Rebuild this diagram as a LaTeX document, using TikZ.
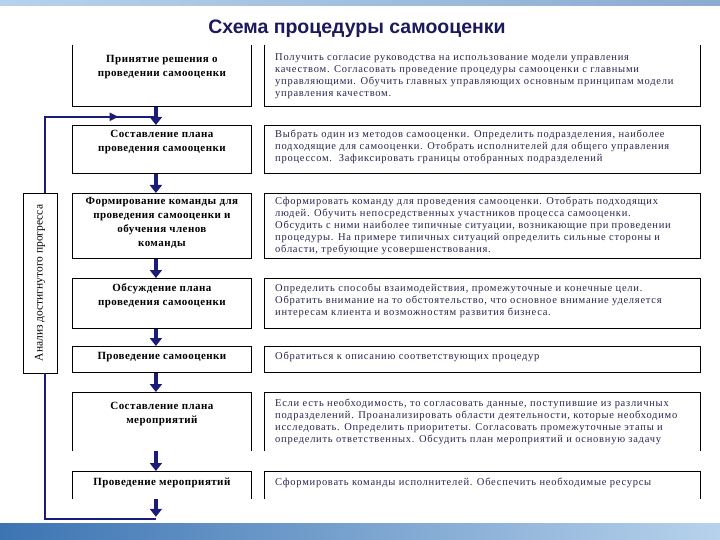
\documentclass[tikz,border=0pt]{standalone}
\usepackage{fontspec}
\setmainfont{Liberation Serif}
\newfontfamily\headfont{Liberation Sans}
\newfontfamily\stagefont[LetterSpace=4]{Liberation Serif}
\newfontfamily\notefont[LetterSpace=7]{Liberation Serif}
\usetikzlibrary{arrows.meta,calc,positioning,decorations.markings}
\definecolor{flownavy}{HTML}{1B1B78}
\definecolor{titlenavy}{HTML}{1A1A5C}
\definecolor{notecolor}{HTML}{26264E}
\definecolor{bandlight}{HTML}{B7D2EC}
\definecolor{banddark}{HTML}{3C74B2}

\begin{document}
\begin{tikzpicture}[x=1pt,y=-1pt,
    stage/.style={draw, line width=0.8pt, inner sep=0pt, anchor=north west, minimum width=179pt},
    note/.style={draw, line width=0.8pt, inner sep=0pt, anchor=north west, minimum width=436pt},
    stagetext/.style={inner sep=0pt, align=center, anchor=north, font=\stagefont\bfseries\fontsize{11}{14}\selectfont},
    notetext/.style={inner sep=0pt, align=left, text=notecolor, font=\notefont\fontsize{10.5}{12}\selectfont},
    flow/.style={line width=3.5pt, flownavy, -{Triangle[width=12pt,length=8pt]}},
    backline/.style={line width=2.4pt, flownavy}]

  \useasboundingbox (0,0) rectangle (720,540);
  \fill[white] (0,0) rectangle (720,540);

  % slide bands
  \shade[left color=bandlight, right color=banddark!60] (0,0) rectangle (720,6);
  \shade[left color=banddark, right color=bandlight] (0,523) rectangle (720,540);

  \node[font=\headfont\bfseries\fontsize{19.5}{22}\selectfont, text=titlenavy] (title) at (357,29) {Схема процедуры самооценки};

  % left column
  \node[stage, draw=none, minimum height=61pt] (s1) at (72,45) {};
  \node[stage, minimum height=48pt] (s2) at (72,125) {};
  \node[stage, minimum height=65pt] (s3) at (72,193) {};
  \node[stage, minimum height=50pt] (s4) at (72,278) {};
  \node[stage, minimum height=26pt] (s5) at (72,346) {};
  \node[stage, draw=none, minimum height=58pt] (s6) at (72,392) {};
  \node[stage, draw=none, minimum height=27pt] (s7) at (72,471) {};
  \draw[line width=0.8pt] (s1.north west) -- (s1.south west) -- (s1.south east) -- (s1.north east);
  \draw[line width=0.8pt] (s6.south west) -- (s6.north west) -- (s6.north east) -- (s6.south east);
  \draw[line width=0.8pt] (s7.south west) -- (s7.north west) -- (s7.north east) -- (s7.south east);

  \node[stagetext, below=10pt of s1.north] (t1) {Принятие решения о\\проведении самооценки};
  \node[stagetext, below=5pt of s2.north] (t2) {Составление плана\\проведения самооценки};
  \node[stagetext, below=4pt of s3.north] (t3) {Формирование команды для\\проведения самооценки и\\обучения членов\\команды};
  \node[stagetext, below=5pt of s4.north] (t4) {Обсуждение плана\\проведения самооценки};
  \node[stagetext, below=6pt of s5.north] (t5) {Проведение самооценки};
  \node[stagetext, below=10pt of s6.north] (t6) {Составление плана\\мероприятий};
  \node[stagetext, below=7pt of s7.north] (t7) {Проведение мероприятий};

  % right column
  \node[note, draw=none, minimum height=61pt] (n1) at (264,45) {};
  \node[note, minimum height=48pt] (n2) at (264,125) {};
  \node[note, minimum height=65pt] (n3) at (264,193) {};
  \node[note, minimum height=50pt] (n4) at (264,278) {};
  \node[note, minimum height=26pt] (n5) at (264,346) {};
  \node[note, draw=none, minimum height=58pt] (n6) at (264,392) {};
  \node[note, draw=none, minimum height=27pt] (n7) at (264,471) {};
  \draw[line width=0.8pt] (n1.north west) -- (n1.south west) -- (n1.south east) -- (n1.north east);
  \draw[line width=0.8pt] (n6.south west) -- (n6.north west) -- (n6.north east) -- (n6.south east);
  \draw[line width=0.8pt] (n7.south west) -- (n7.north west) -- (n7.north east) -- (n7.south east);

  \node[notetext, below right=8pt and 11pt of n1.north west] (u1) {Получить согласие руководства на использование модели управления\\качеством. Согласовать проведение процедуры самооценки с главными\\управляющими. Обучить главных управляющих основным принципам модели\\управления качеством.};
  \node[notetext, below right=5pt and 11pt of n2.north west] (u2) {Выбрать один из методов самооценки. Определить подразделения, наиболее\\подходящие для самооценки. Отобрать исполнителей для общего управления\\процессом.\ \ Зафиксировать границы отобранных подразделений};
  \node[notetext, below right=4pt and 11pt of n3.north west] (u3) {Сформировать команду для проведения самооценки. Отобрать подходящих\\людей. Обучить непосредственных участников процесса самооценки.\\Обсудить с ними наиболее типичные ситуации, возникающие при проведении\\процедуры. На примере типичных ситуаций определить сильные стороны и\\области, требующие усовершенствования.};
  \node[notetext, below right=6pt and 11pt of n4.north west] (u4) {Определить способы взаимодействия, промежуточные и конечные цели.\\Обратить внимание на то обстоятельство, что основное внимание уделяется\\интересам клиента и возможностям развития бизнеса.};
  \node[notetext, below right=6pt and 11pt of n5.north west] (u5) {Обратиться к описанию соответствующих процедур};
  \node[notetext, below right=7pt and 11pt of n6.north west] (u6) {Если есть необходимость, то согласовать данные, поступившие из различных\\подразделений. Проанализировать области деятельности, которые необходимо\\исследовать. Определить приоритеты. Согласовать промежуточные этапы и\\определить ответственных. Обсудить план мероприятий и основную задачу};
  \node[notetext, below right=7pt and 11pt of n7.north west] (u7) {Сформировать команды исполнителей. Обеспечить необходимые ресурсы};

  % side box
  \node[draw, line width=0.8pt, fill=white, inner sep=0pt, minimum width=34pt, minimum height=180pt] (side) at (40,283)
    {\rotatebox{90}{\fontsize{11.5}{13}\selectfont Анализ достигнутого прогресса}};

  % arrows
  \draw[flow] ([xshift=-6pt]s1.south) -- ([xshift=-6pt]s2.north);
  \draw[flow] ([xshift=-6pt]s2.south) -- ([xshift=-6pt]s3.north);
  \draw[flow] ([xshift=-6pt]s3.south) -- ([xshift=-6pt]s4.north);
  \draw[flow] ([xshift=-6pt]s4.south) -- ([xshift=-6pt]s5.north);
  \draw[flow] ([xshift=-6pt]s5.south) -- ([xshift=-6pt]s6.north);
  \draw[flow] ([xshift=-6pt]s6.south) -- ([xshift=-6pt]s7.north);

  \coordinate (loopend) at ($(s7.south)+(-6,20)$);
  \coordinate (join) at ($([xshift=-6pt]s1.south)!0.55!([xshift=-6pt]s2.north)$);
  \draw[flow] ([xshift=-6pt]s7.south) -- ($(loopend)+(0,-2)$);
  \draw[backline] (loopend) -| ([xshift=5pt]side.south);
  \draw[backline, postaction={decorate, decoration={markings, mark=at position 0.8 with {\arrow{Triangle[width=8pt,length=9pt]}}}}]
    ([xshift=5pt]side.north) |- (join);
\end{tikzpicture}
\end{document}
